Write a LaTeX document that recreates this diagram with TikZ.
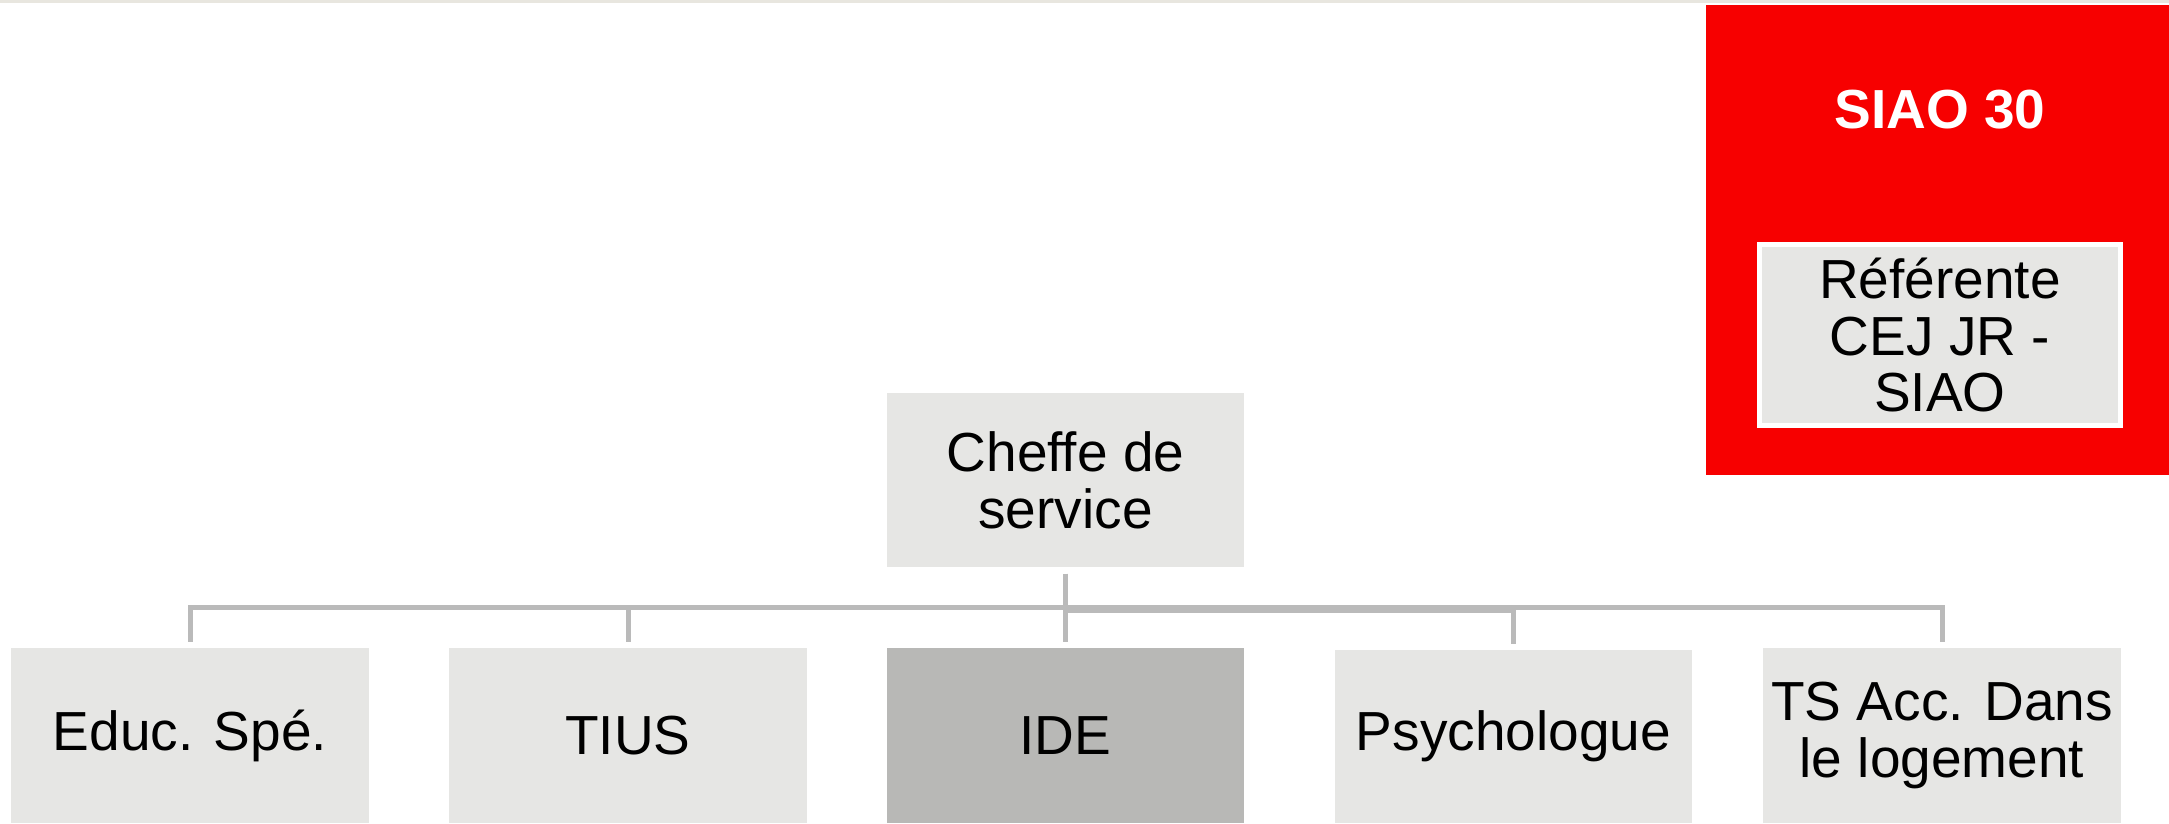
\documentclass[tikz,border=0pt]{standalone}
\usepackage{fontspec}
\setmainfont{Liberation Sans}
\usepackage{tikz}

\definecolor{boxgray}{HTML}{E6E6E4}
\definecolor{idegray}{HTML}{B8B8B6}
\definecolor{linegray}{HTML}{BABABA}
\definecolor{siaored}{HTML}{F70000}
\definecolor{topband}{HTML}{E8E6DF}

\tikzset{
    orgbox/.style={fill=boxgray, minimum width=3.57cm, minimum height=1.75cm, inner sep=0pt, align=center, font=\orgfont},
    link/.style={draw=linegray, line width=0.05cm, shorten <=0.06cm, shorten >=0.05cm}
}
\newcommand{\orgfont}{\fontsize{15.65}{16.2}\selectfont}

\begin{document}
\begin{tikzpicture}[x=0.01cm, y=-0.01cm]
            \useasboundingbox (0,0) rectangle (2169,823);

            % Top Band
            \fill[topband] (0,0) rectangle (2169,3);

            % SIAO Block
            \fill[siaored] (1706,5) rectangle (2180,475);
            \node[font=\orgfont\bfseries, text=white] (siao) at (1940,110) {SIAO 30};
            \node[orgbox, draw=white, line width=0.05cm, minimum width=3.61cm, minimum height=1.81cm] (referente) at (1940,335) {Référente\\CEJ JR -\\SIAO};

            % Head of Service
            \node[orgbox, minimum height=1.74cm] (cheffe) at (1065.5,480) {Cheffe de\\service};

            % Team Row
            \node[orgbox] (educ) at (190,735.5) {Educ. Spé.};
            \node[orgbox] (tius) at (628,735.5) {TIUS};
            \node[orgbox, fill=idegray] (ide) at (1065.5,735.5) {IDE};
            \node[orgbox, minimum height=1.73cm] (psycho) at (1513.5,736.5) {Psychologue};
            \node[orgbox] (tsacc) at (1942,735.5) {TS Acc. Dans\\le logement};

            % Connectors
            \coordinate (bus) at (0,607.5);
            \coordinate (buslow) at (0,610.5);
            \foreach \n in {educ,tius,ide,tsacc}
                \draw[link] (cheffe.south) -- (cheffe.south |- bus) -| (\n.north);
            \draw[link] (cheffe.south) -- (cheffe.south |- buslow) -| (psycho.north);
        \end{tikzpicture}
\end{document}
